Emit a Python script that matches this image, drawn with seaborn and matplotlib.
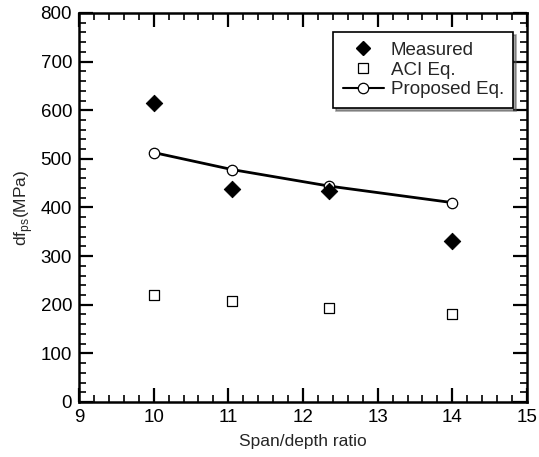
import matplotlib
matplotlib.use("Agg")
import matplotlib.pyplot as plt
import seaborn as sns
import pandas as pd
from matplotlib.ticker import MultipleLocator
from matplotlib.lines import Line2D

sns.set_theme(style="white")
plt.rcParams['font.family'] = ['Liberation Sans', 'DejaVu Sans']

span_depth = [10.0, 11.05, 12.35, 14.0]
measured = [615, 437, 434, 331]
aci_eq = [221, 208, 193, 180]
proposed_eq = [513, 478, 444, 410]

df = pd.DataFrame({"ratio": span_depth, "Measured": measured,
                   "ACI Eq.": aci_eq, "Proposed Eq.": proposed_eq})

fig = plt.figure(figsize=(5.39, 4.57), dpi=100)
ax = fig.add_axes([0.1466, 0.1204, 0.8311, 0.8512])

sns.lineplot(data=df, x="ratio", y="Proposed Eq.", ax=ax, color="black",
             linewidth=2.0, marker="o", markersize=7.5, markerfacecolor="white",
             markeredgecolor="black", markeredgewidth=0.9, zorder=2)
sns.scatterplot(data=df, x="ratio", y="Measured", ax=ax, marker="D", s=70,
                color="black", edgecolor="black", zorder=3)
sns.scatterplot(data=df, x="ratio", y="ACI Eq.", ax=ax, marker="s", s=55,
                facecolor="white", edgecolor="black", linewidth=0.9, zorder=3)

ax.set_xlim(9, 15)
ax.set_ylim(0, 800)
ax.xaxis.set_major_locator(MultipleLocator(1))
ax.xaxis.set_minor_locator(MultipleLocator(0.2))
ax.yaxis.set_major_locator(MultipleLocator(100))
ax.yaxis.set_minor_locator(MultipleLocator(20))
ax.tick_params(which="both", direction="in", top=True, right=True,
               bottom=True, left=True, colors="black", labelsize=13.5, pad=5)
ax.tick_params(which="major", length=10, width=1.6)
ax.tick_params(which="minor", length=5, width=1.2)
for sp in ax.spines.values():
    sp.set_color("black")
    sp.set_linewidth(1.8)

ax.set_xlabel("Span/depth ratio", fontsize=12.5, labelpad=6)
ax.set_ylabel(r"df$_{\mathregular{ps}}$(MPa)", fontsize=12.5, labelpad=4)

handles = [
    Line2D([], [], linestyle="none", marker="D", markersize=7.5,
           color="black"),
    Line2D([], [], linestyle="none", marker="s", markersize=7.5,
           markerfacecolor="white", markeredgecolor="black", markeredgewidth=0.9),
    Line2D([], [], color="black", linewidth=1.5, marker="o", markersize=7.5,
           markerfacecolor="white", markeredgecolor="black", markeredgewidth=0.9),
]
leg = ax.legend(handles, ["Measured", "ACI Eq.", "Proposed Eq."],
                loc="upper right", bbox_to_anchor=(0.99, 0.975),
                fontsize=13.5, frameon=True, fancybox=False, shadow=True,
                framealpha=1, edgecolor="black", handlelength=2.2,
                handletextpad=0.35, borderpad=0.5, labelspacing=0.15)
leg.get_frame().set_linewidth(1.2)

fig.savefig("out.png", dpi=100)
